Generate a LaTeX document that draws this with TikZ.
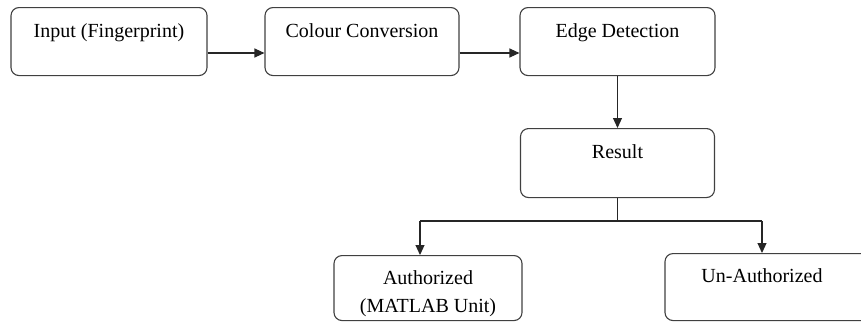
\documentclass[tikz,border=0pt]{standalone}
\usepackage{fontspec}
\setmainfont{Liberation Serif}
\usetikzlibrary{arrows.meta}
\begin{document}
\begin{tikzpicture}[x=1pt,y=-1pt,
  box/.style={draw=black!75, line width=1.1pt, rounded corners=8pt, inner sep=0pt,
     anchor=north, align=center, font=\fontsize{20}{28}\selectfont,
     text height=30pt},
  txt/.style={inner sep=0pt, font=\fontsize{20}{28}\selectfont},
  conn/.style={draw=black!85, line width=1.1pt},
  arr/.style={conn, -{Triangle[length=10pt,width=9pt]}}]
\useasboundingbox (0,0) rectangle (861,322);
\clip (0,0) rectangle (861,322);
\node[box, minimum width=196pt, text depth=38pt] (in) at (109,7) {Input (Fingerprint)};
\node[box, minimum width=194pt, text depth=38pt] (cc) at (362,7) {Colour Conversion};
\node[box, minimum width=195pt, text depth=38pt] (ed) at (617.5,7) {Edge Detection};
\node[box, minimum width=194pt, text depth=39pt] (res) at (617.5,128) {Result};
\node[box, minimum width=188pt, text height=57pt, text depth=8pt] (auth) at (428,255) {Authorized\\(MATLAB Unit)};
\node[box, minimum width=205pt, text depth=37pt] (un) at (767.5,253) {\phantom{X}};
\node[txt, anchor=base] (unl) at (762,282) {Un-Authorized};
\draw[arr] (in.east |- 0,53) -- (cc.west |- 0,53);
\draw[arr] (cc.east |- 0,53) -- (ed.west |- 0,53);
\draw[arr] (ed.south) -- (res.north);
\coordinate (j) at (617.5,221);
\coordinate (la) at (420,221);
\coordinate (ra) at (762,221);
\draw[conn] (res.south) -- (j);
\draw[conn] (la) -- (ra);
\draw[arr] (la) -- (la |- auth.north);
\draw[arr] (ra) -- (ra |- un.north);
\end{tikzpicture}
\end{document}
